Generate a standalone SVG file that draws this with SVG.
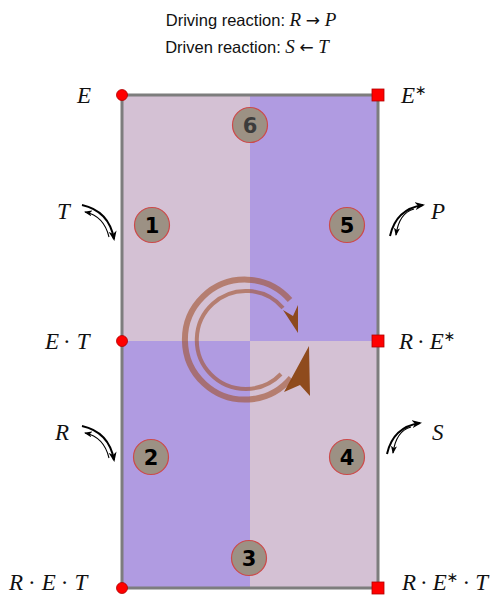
<svg xmlns="http://www.w3.org/2000/svg" width="499" height="595" viewBox="0 0 499 595">
<style>
.title{font-family:"Liberation Sans","DejaVu Sans",sans-serif;font-size:16.5px;fill:#111}
.m{font-family:"Liberation Serif",serif;font-style:italic;font-size:19px}
.ar{font-family:"DejaVu Sans",sans-serif;font-style:normal;font-size:17px}
.lab{font-family:"Liberation Serif",serif;font-style:italic;font-size:23px;fill:#111}
.up{font-style:normal}
.st{font-family:"DejaVu Sans",sans-serif;font-style:normal;font-size:14px;fill:#111}
.num{fill:#9c9184;stroke:#cc4a4a;stroke-width:1.2}
.numt{font-family:"DejaVu Sans",sans-serif;font-weight:bold;font-size:21px;fill:#000;text-anchor:middle}
.dot{fill:#ff0000;stroke:#b00000;stroke-width:0.8}
.thick{fill:none;stroke:#000;stroke-width:2;marker-end:url(#ah)}
.thin{fill:none;stroke:#000;stroke-width:1.1;marker-end:url(#ahs)}
</style>
<defs>
<marker id="ah" markerWidth="10" markerHeight="8" refX="8" refY="4" orient="auto" markerUnits="userSpaceOnUse">
<path d="M0,0 L10,4 L0,8 L3,4 Z" fill="#000"/>
</marker>
<marker id="ahs" markerWidth="8" markerHeight="6" refX="7" refY="3" orient="auto" markerUnits="userSpaceOnUse">
<path d="M0,0 L8,3 L0,6 L2,3 Z" fill="#000"/>
</marker>
</defs>

<g id="title">
<text class="title" x="251" y="26" text-anchor="middle">Driving reaction: <tspan class="m">R</tspan> <tspan class="ar">→</tspan> <tspan class="m">P</tspan></text>
<text class="title" x="247" y="53" text-anchor="middle">Driven reaction: <tspan class="m">S</tspan> <tspan class="ar">←</tspan> <tspan class="m">T</tspan></text>
</g>

<g id="panel">
<rect x="122" y="95" width="128" height="246" fill="#d4c1d4"/>
<rect x="250" y="95" width="128" height="246" fill="#b09be1"/>
<rect x="122" y="341" width="128" height="247" fill="#b09be1"/>
<rect x="250" y="341" width="128" height="247" fill="#d4c1d4"/>
<rect x="122" y="95" width="256" height="493" fill="none" stroke="#7d7d7d" stroke-width="3"/>
</g>

<g id="cycle">
<path d="M 290 300 A 60 60 0 1 0 291 378" fill="none" stroke="#a0522d" stroke-width="6" stroke-opacity="0.6"/>
<path d="M 281 374 A 49 49 0 1 1 283 308" fill="none" stroke="#a0522d" stroke-width="4" stroke-opacity="0.6"/>
<path d="M 309 346 L 310 396 L 300 385 L 284 392 Z" fill="#8b4513" fill-opacity="0.95"/>
<path d="M 283 310 L 293 316 L 298 305 L 298 333 Z" fill="#8b4513" fill-opacity="0.95"/>
</g>

<g id="connectors">
<path class="thick" d="M 82 205 Q 109 211 114 239"/>
<path class="thin" d="M 109 237 Q 104 216 85 212"/>
<path class="thick" d="M 390 236 Q 396 209 423 205"/>
<path class="thin" d="M 414 209 Q 399 213 396 235"/>
<path class="thick" d="M 82 426 Q 109 432 114 460"/>
<path class="thin" d="M 109 458 Q 104 437 85 433"/>
<path class="thick" d="M 387 454 Q 393 427 420 423"/>
<path class="thin" d="M 411 427 Q 396 431 393 453"/>
</g>

<g id="node-E"><circle class="dot" cx="122" cy="95" r="5.5"/><text class="lab" x="77" y="103">E</text></g>
<g id="node-Estar"><rect class="dot" x="372" y="89" width="12" height="12"/><text class="lab" x="401" y="103">E<tspan class="st" dy="-8">∗</tspan></text></g>
<g id="node-ET"><circle class="dot" cx="122" cy="341" r="5.5"/><text class="lab" x="45" y="349">E<tspan class="up" dx="4">·</tspan><tspan dx="6">T</tspan></text></g>
<g id="node-REstar"><rect class="dot" x="372" y="335" width="12" height="12"/><text class="lab" x="399" y="349">R<tspan class="up" dx="4">·</tspan><tspan dx="5">E</tspan><tspan class="st" dy="-8">∗</tspan></text></g>
<g id="node-RET"><circle class="dot" cx="122" cy="588" r="5.5"/><text class="lab" x="9" y="590">R<tspan class="up" dx="5">·</tspan><tspan dx="6">E</tspan><tspan class="up" dx="5">·</tspan><tspan dx="6">T</tspan></text></g>
<g id="node-REstarT"><rect class="dot" x="372" y="582" width="12" height="12"/><text class="lab" x="402" y="590">R<tspan class="up" dx="4">·</tspan><tspan dx="5">E</tspan><tspan class="st" dy="-8">∗</tspan><tspan class="up" dy="8" dx="4">·</tspan><tspan dx="5">T</tspan></text></g>

<g id="label-T"><text class="lab" x="57" y="219">T</text></g>
<g id="label-P"><text class="lab" x="431" y="219">P</text></g>
<g id="label-R"><text class="lab" x="55" y="440">R</text></g>
<g id="label-S"><text class="lab" x="432" y="440">S</text></g>

<g id="step-6"><circle class="num" cx="250" cy="125" r="17.5"/><text class="numt" x="250" y="133" style="fill:#3c3c3c">6</text></g>
<g id="step-1"><circle class="num" cx="152" cy="225" r="17.5"/><text class="numt" x="152" y="233">1</text></g>
<g id="step-5"><circle class="num" cx="347" cy="225" r="17.5"/><text class="numt" x="347" y="233">5</text></g>
<g id="step-2"><circle class="num" cx="151" cy="457" r="17.5"/><text class="numt" x="151" y="465">2</text></g>
<g id="step-4"><circle class="num" cx="347" cy="457" r="17.5"/><text class="numt" x="347" y="465">4</text></g>
<g id="step-3"><circle class="num" cx="249" cy="558" r="17.5"/><text class="numt" x="249" y="566">3</text></g>
</svg>
